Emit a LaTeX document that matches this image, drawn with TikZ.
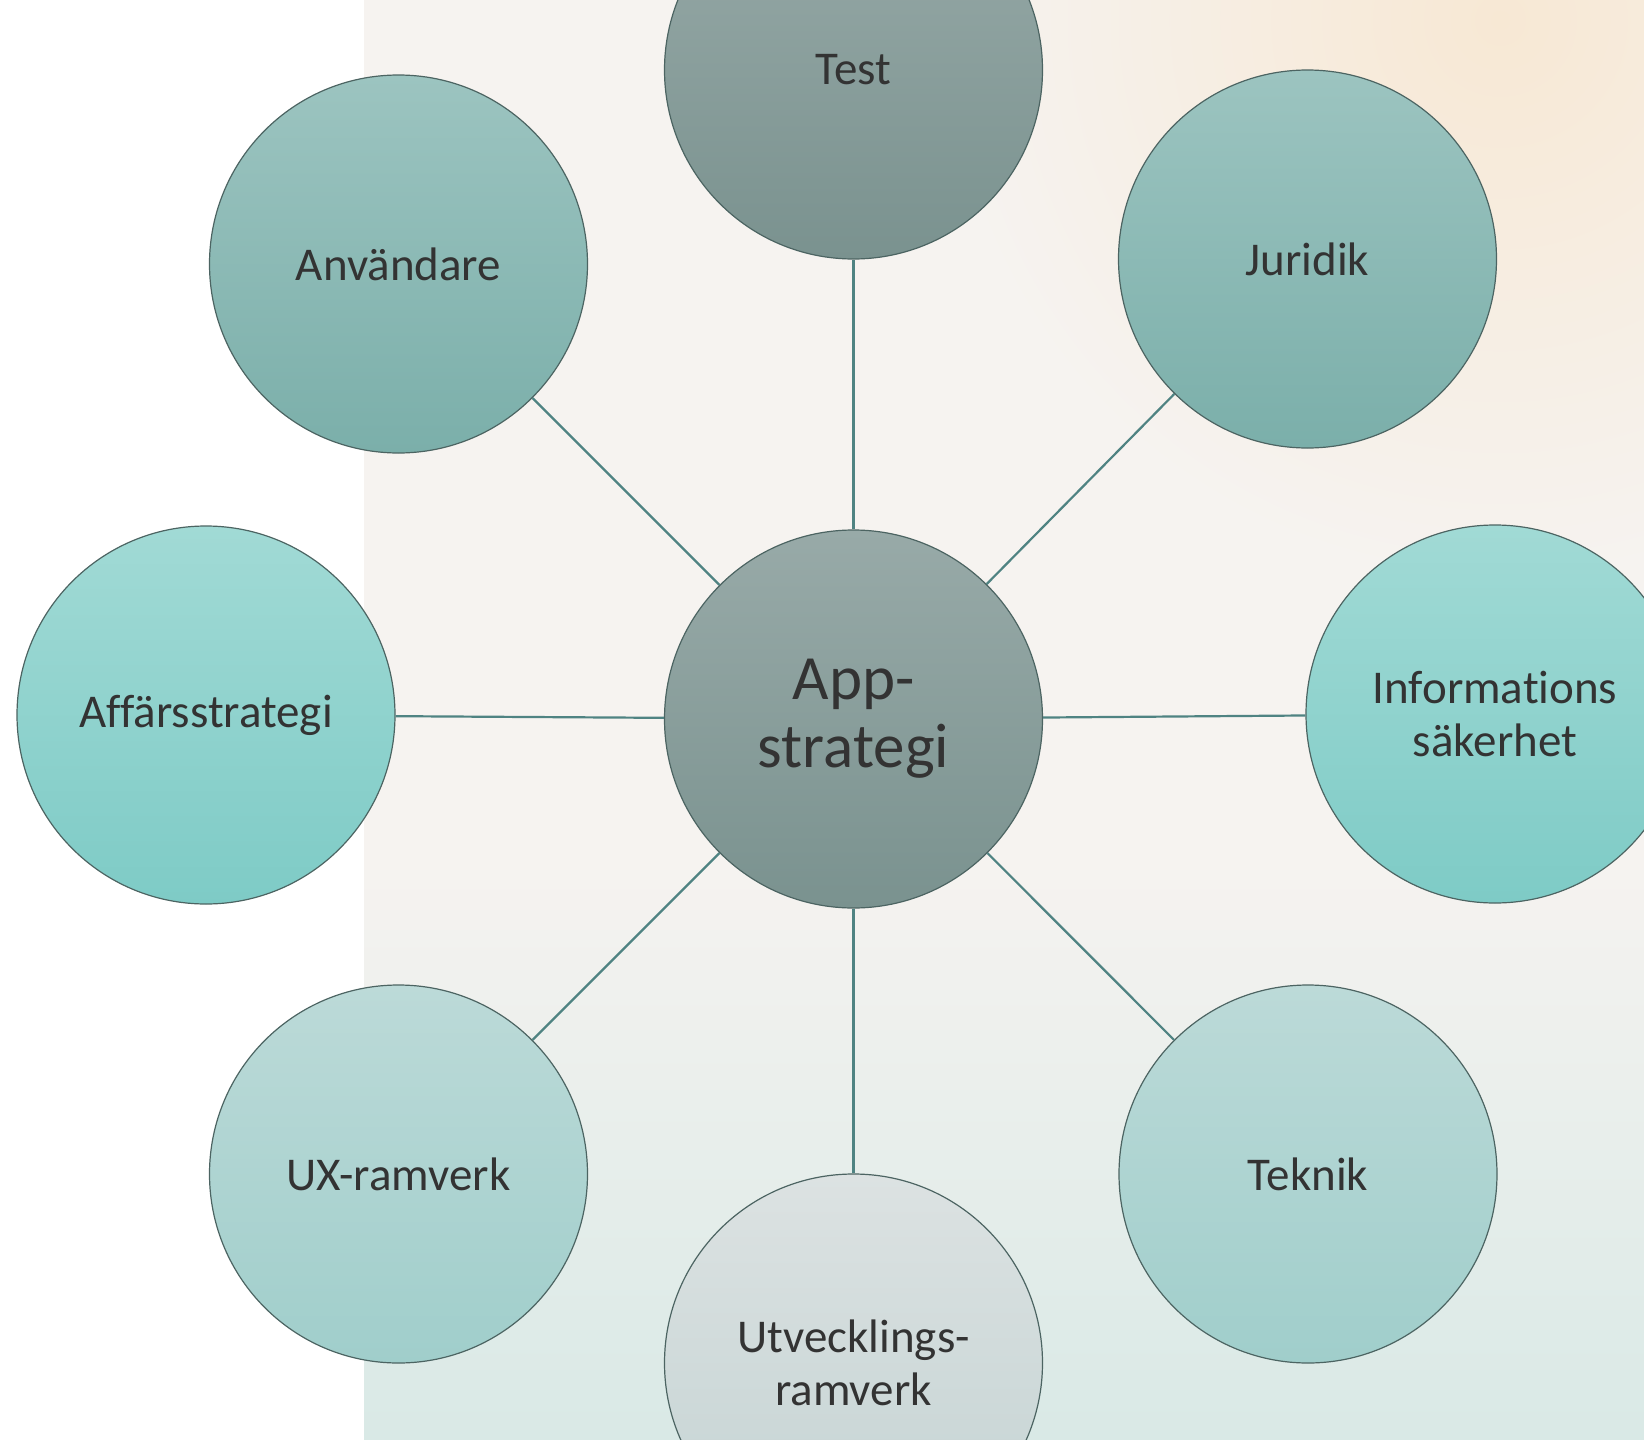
\documentclass[tikz,border=0pt]{standalone}
\usepackage{fontspec}
\setmainfont{Carlito}[Ligatures=NoCommon]
\usepackage{xcolor}
\usetikzlibrary{
    positioning,     % For relative node placement
    calc             % For coordinate calculations
}
\definecolor{bgbase}{HTML}{F6F3F0}
\definecolor{bgpeach}{HTML}{F7E8D4}
\definecolor{bgteal}{HTML}{D9E9E6}
\definecolor{bubbleline}{HTML}{4C6462}
\definecolor{linkteal}{HTML}{4F8382}
\definecolor{textgray}{HTML}{333333}
\definecolor{hub_top}{HTML}{98AAA8}
\definecolor{hub_bottom}{HTML}{7A928F}
\definecolor{mid_top}{HTML}{9CC4C0}
\definecolor{mid_bottom}{HTML}{7BAFAA}
\definecolor{side_top}{HTML}{A1DAD5}
\definecolor{side_bottom}{HTML}{7ECBC6}
\definecolor{low_top}{HTML}{BCDAD8}
\definecolor{low_bottom}{HTML}{A0CECB}
\definecolor{dev_top}{HTML}{DCE2E2}
\definecolor{dev_bottom}{HTML}{C4D3D3}

\begin{document}
\begin{tikzpicture}[x=1pt, y=1pt]

    % --- Style Definitions ---
    \tikzset{
        % A general style for all the circles in the diagram
        bubble/.style={
            circle,
            minimum size=378pt,
            inner sep=0pt,
            draw=bubbleline,
            line width=1.2pt,
            text=textgray,
            align=center,
            font=\fontsize{47}{53}\selectfont
        },
        % A style for all the spokes
        link/.style={
            draw=linkteal,
            line width=2.2pt
        }
    }

    \useasboundingbox (0,0) rectangle (1644,-1440);

    % --- Background ---
    \fill[white] (0,0) rectangle (1644,-1440);
    \fill[bgbase] (364,0) rectangle (1644,-1440);
    \begin{scope}
        \clip (364,0) rectangle (1644,-1440);
        \shade[inner color=bgpeach, outer color=bgbase] (1500,-20) circle (560);
        \shade[top color=bgbase, bottom color=bgteal] (364,-860) rectangle (1644,-1440);
    \end{scope}

    % --- Node Placement ---
    % The hub in the middle
    \node[bubble, top color=hub_top, bottom color=hub_bottom,
          font=\fontsize{63}{68}\selectfont] (app) at (853.5,-719) {App-\\strategi};

    % The ring of topics around it
    \node[bubble, top color=hub_top, bottom color=hub_bottom] (test) at (853.5,-70) {Test};
    \node[bubble, top color=mid_top, bottom color=mid_bottom] (juridik) at (1307.5,-259) {Juridik};
    \node[bubble, top color=mid_top, bottom color=mid_bottom] (anvandare) at (398.5,-264) {Användare};
    \node[bubble, top color=side_top, bottom color=side_bottom] (affar) at (206,-715) {Affärsstrategi};
    \node[bubble, top color=side_top, bottom color=side_bottom] (infosak) at (1495,-714) {Informations\\säkerhet};
    \node[bubble, top color=low_top, bottom color=low_bottom] (ux) at (398.5,-1174) {UX-ramverk};
    \node[bubble, top color=low_top, bottom color=low_bottom] (teknik) at (1308,-1174) {Teknik};
    \node[bubble, top color=dev_top, bottom color=dev_bottom] (utveckling) at (853.5,-1363) {Utvecklings-\\ramverk};

    % --- Drawing Connections ---
    \foreach \outer in {test, juridik, anvandare, affar, infosak, ux, teknik, utveckling} {
        \draw[link] (app) -- (\outer);
    }

\end{tikzpicture}
\end{document}
